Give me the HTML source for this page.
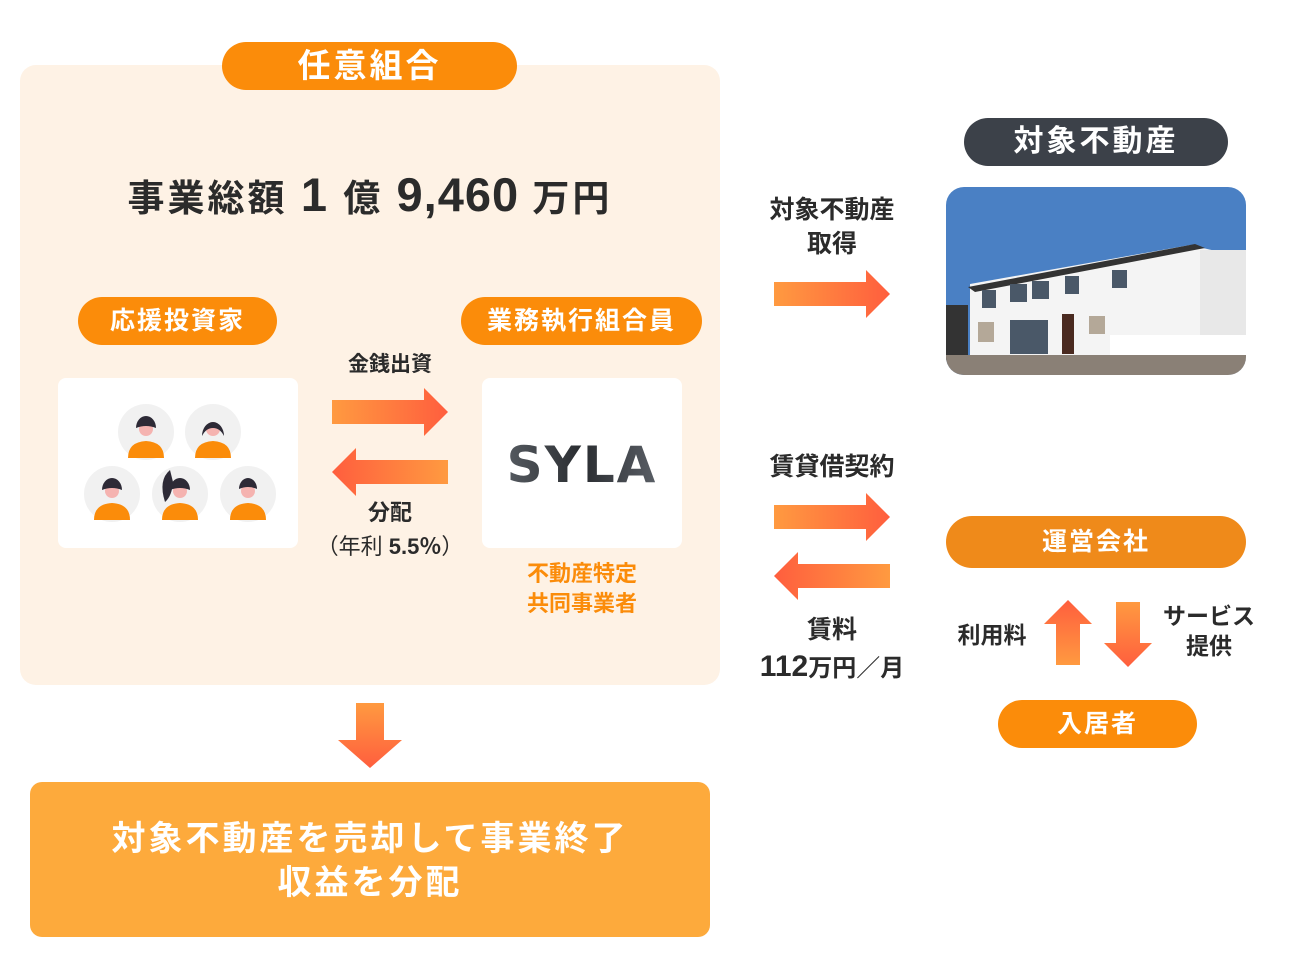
<!DOCTYPE html>
<html><head><meta charset="utf-8"><style>
*{margin:0;padding:0;box-sizing:border-box}
body{width:1296px;height:972px;background:#fff;position:relative;overflow:hidden;font-family:"Liberation Sans","Noto Sans CJK JP",sans-serif;color:#2b2b2b}
.a{position:absolute}
.pill{position:absolute;border-radius:26px;color:#fff;font-weight:bold;text-align:center;background:#fb8c0a}
.t{position:absolute;text-align:center;font-weight:bold;white-space:nowrap}
</style></head><body>
<div class="a" style="left:20px;top:65px;width:700px;height:620px;background:#fef2e5;border-radius:16px"></div>
<div class="pill" style="left:222px;top:42px;width:295px;height:48px;font-size:33px;line-height:48px;letter-spacing:3px">任意組合</div>
<div class="t" style="left:20px;width:700px;top:168px;font-size:37px;line-height:54px;letter-spacing:3px">事業総額 <span style="font-size:47px">1</span> 億 <span style="font-size:47px;letter-spacing:1px">9,460</span> 万円</div>
<div class="pill" style="left:78px;top:297px;width:199px;height:48px;font-size:25px;line-height:48px;letter-spacing:2px">応援投資家</div>
<div class="pill" style="left:461px;top:297px;width:241px;height:48px;font-size:25px;line-height:48px;letter-spacing:2px">業務執行組合員</div>
<div class="a" style="left:58px;top:378px;width:240px;height:170px;background:#fff;border-radius:8px"></div>
<div class="a" style="left:482px;top:378px;width:200px;height:170px;background:#fff;border-radius:8px"></div>
<svg class="a" style="left:0;top:0" width="1296" height="972">
<defs>
<linearGradient id="gr" x1="0" x2="1"><stop offset="0" stop-color="#ff9a40"/><stop offset="1" stop-color="#ff5e3e"/></linearGradient>
<linearGradient id="gl" x1="1" x2="0"><stop offset="0" stop-color="#ff9a40"/><stop offset="1" stop-color="#ff5e3e"/></linearGradient>
<linearGradient id="gd" x1="0" y1="0" x2="0" y2="1"><stop offset="0" stop-color="#ff9a40"/><stop offset="1" stop-color="#ff5e3e"/></linearGradient>
<linearGradient id="gu" x1="0" y1="1" x2="0" y2="0"><stop offset="0" stop-color="#ff9a40"/><stop offset="1" stop-color="#ff5e3e"/></linearGradient>
<linearGradient id="sy" x1="0" x2="1"><stop offset="0" stop-color="#555a60"/><stop offset="0.5" stop-color="#2a2d31"/><stop offset="1" stop-color="#5a5f66"/></linearGradient>
<clipPath id="ph"><rect x="946" y="187" width="300" height="188" rx="18"/></clipPath>
</defs>
<path d="M332 400H424V388L448 412L424 436V424H332Z" fill="url(#gr)"/>
<path d="M448 460H356V448L332 472L356 496V484H448Z" fill="url(#gl)"/>
<path d="M356 703H384V740H402L370 768L338 740H356Z" fill="url(#gd)"/>
<path d="M774 282H866V270L890 294L866 318V306H774Z" fill="url(#gr)"/>
<path d="M774 505H866V493L890 517L866 541V529H774Z" fill="url(#gr)"/>
<path d="M890 564H798V552L774 576L798 600V588H890Z" fill="url(#gl)"/>
<path d="M1056 665V624H1044L1068 600L1092 624H1080V665Z" fill="url(#gu)"/>
<path d="M1116 602V643H1104L1128 667L1152 643H1140V602Z" fill="url(#gd)"/>
<g>
<circle cx="146" cy="432" r="28" fill="#f1f1f1"/><circle cx="213" cy="432" r="28" fill="#f1f1f1"/>
<circle cx="112" cy="494" r="28" fill="#f1f1f1"/><circle cx="180" cy="494" r="28" fill="#f1f1f1"/><circle cx="248" cy="494" r="28" fill="#f1f1f1"/>
<g fill="#fb8c0a">
<path d="M128 458q0-16 18-17q18 1 18 17Z"/><path d="M195 458q0-16 18-17q18 1 18 17Z"/>
<path d="M94 520q0-16 18-17q18 1 18 17Z"/><path d="M162 520q0-16 18-17q18 1 18 17Z"/><path d="M230 520q0-16 18-17q18 1 18 17Z"/>
</g>
<g fill="#f5b3b0"><circle cx="146" cy="429" r="7"/><circle cx="213" cy="429" r="7"/><circle cx="112" cy="491" r="7"/><circle cx="180" cy="491" r="7"/><circle cx="248" cy="491" r="7"/></g>
<g fill="#2d2a36"><path d="M136 428a10 12 0 0120 0q-10-4-20 0Z"/><path d="M202 436a11 14 0 0122 0q-4-8-11-8q-7 0-11 8Z"/><path d="M102 490a10 12 0 0120 0q-10-4-20 0Z"/><path d="M170 490a10 12 0 0120 0q-10-4-20 0Z"/><path d="M239 489a9 11 0 0118 0q-9-4-18 0Z"/><path d="M170 470q-12 10-5 32q7-6 8-20Z"/></g>
</g>
<text x="582" y="482" text-anchor="middle" font-family="DejaVu Sans,sans-serif" font-weight="bold" font-size="50" letter-spacing="2" fill="url(#sy)" transform="translate(582 0) scale(1 1) translate(-582 0)">SYLA</text>
<g clip-path="url(#ph)">
<rect x="946" y="187" width="300" height="188" fill="#4a80c4"/>
<path d="M970 284L1190 245L1246 258V375H970Z" fill="#f4f4f4"/>
<path d="M968 287L1195 244L1205 248L975 292Z" fill="#333"/>
<rect x="946" y="305" width="22" height="55" fill="#333"/>
<rect x="1200" y="250" width="46" height="110" fill="#e8e8e8"/>
<g fill="#4a5868"><rect x="982" y="290" width="14" height="18"/><rect x="1010" y="284" width="17" height="18"/><rect x="1032" y="281" width="17" height="18"/><rect x="1065" y="276" width="14" height="18"/><rect x="1112" y="270" width="15" height="18"/><rect x="1010" y="320" width="38" height="34"/></g>
<g fill="#b4a898"><rect x="978" y="322" width="16" height="20"/><rect x="1089" y="316" width="16" height="18"/></g>
<rect x="1062" y="314" width="12" height="40" fill="#4a2a20"/>
<rect x="1110" y="335" width="136" height="22" fill="#fff"/>
<rect x="946" y="355" width="300" height="20" fill="#8a8076"/>
</g>
</svg>
<div class="t" style="left:310px;width:160px;top:352px;font-size:21px;line-height:26px">金銭出資</div>
<div class="t" style="left:310px;width:160px;top:500px;font-size:22px;line-height:26px">分配</div>
<div class="t" style="left:300px;width:180px;top:534px;font-size:22px;line-height:26px;font-weight:normal">（年利 <b>5.5％</b>）</div>
<div class="t" style="left:482px;width:200px;top:559px;font-size:22px;line-height:30px;color:#fb8c0a">不動産特定<br>共同事業者</div>
<div class="a" style="left:30px;top:782px;width:680px;height:155px;background:#fdaa3c;border-radius:12px"></div>
<div class="t" style="left:30px;width:680px;top:817px;font-size:34px;line-height:44px;color:#fff;letter-spacing:3px">対象不動産を売却して事業終了<br>収益を分配</div>
<div class="pill" style="left:964px;top:118px;width:264px;height:48px;font-size:30px;line-height:48px;letter-spacing:3px;background:#3c4149">対象不動産</div>
<div class="t" style="left:742px;width:180px;top:193px;font-size:25px;line-height:34px">対象不動産<br>取得</div>
<div class="t" style="left:742px;width:180px;top:452px;font-size:25px;line-height:30px">賃貸借契約</div>
<div class="t" style="left:742px;width:180px;top:615px;font-size:25px;line-height:30px">賃料</div>
<div class="t" style="left:732px;width:200px;top:650px;font-size:24px;line-height:34px"><span style="font-size:30px">112</span>万円<span style="font-weight:normal">／</span>月</div>
<div class="pill" style="left:946px;top:516px;width:300px;height:52px;font-size:25px;line-height:52px;letter-spacing:2px;background:#ef8a1a">運営会社</div>
<div class="t" style="left:942px;width:100px;top:621px;font-size:23px;line-height:28px">利用料</div>
<div class="t" style="left:1150px;width:118px;top:601px;font-size:23px;line-height:30px">サービス<br>提供</div>
<div class="pill" style="left:998px;top:700px;width:199px;height:48px;font-size:25px;line-height:48px;letter-spacing:2px">入居者</div>
</body></html>
